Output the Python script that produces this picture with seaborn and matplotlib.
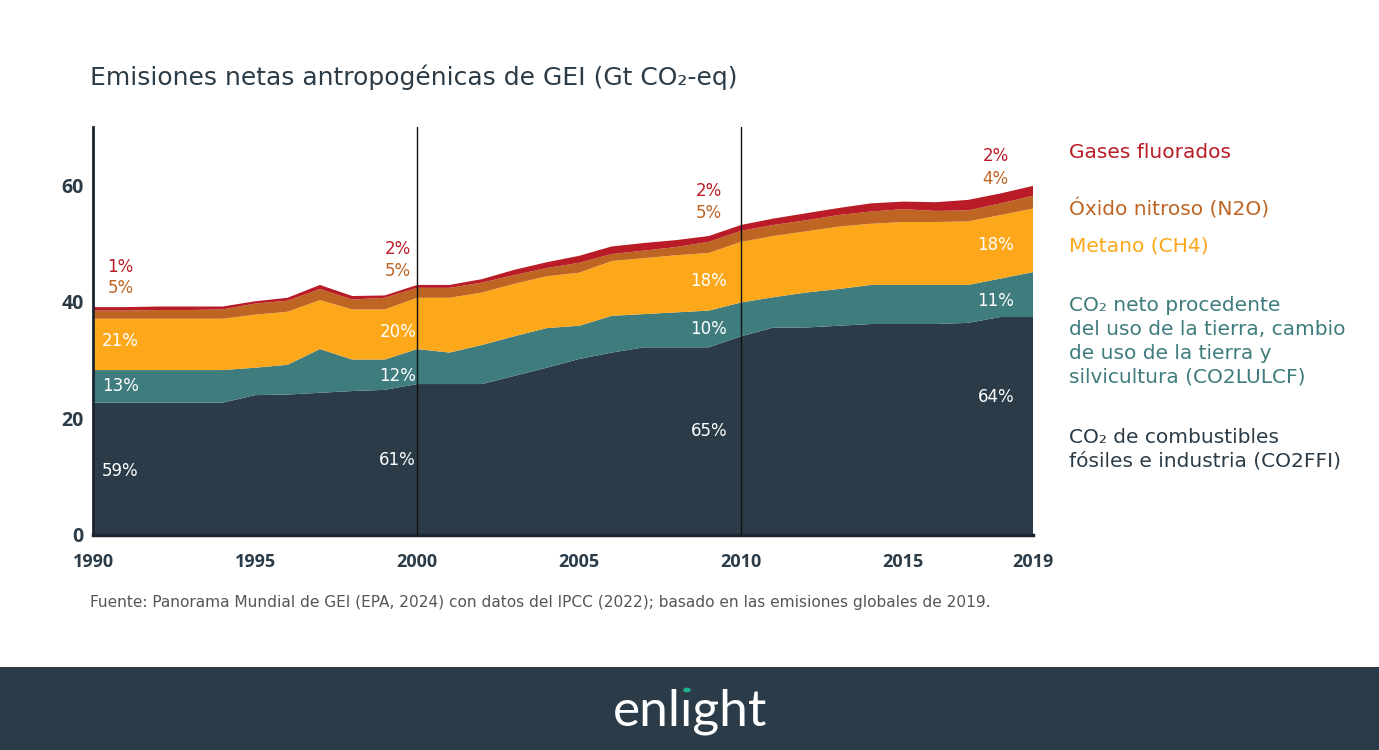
import numpy as np
import pandas as pd
import matplotlib
matplotlib.use("Agg")
import matplotlib.pyplot as plt
from matplotlib.patches import Rectangle
import seaborn as sns

# ---------------- data ----------------
years = list(range(1990, 2020))
co2ffi = [22.7, 22.7, 22.7, 22.7, 22.7, 24.0, 24.1, 24.4, 24.7, 24.9,
          25.9, 25.9, 25.9, 27.3, 28.7, 30.2, 31.3, 32.2, 32.2, 32.2,
          34.1, 35.6, 35.6, 35.9, 36.2, 36.2, 36.2, 36.4, 37.4, 37.4]
co2lulcf = [5.6, 5.6, 5.6, 5.6, 5.6, 4.7, 5.1, 7.5, 5.4, 5.2,
            6.0, 5.4, 6.7, 6.8, 6.8, 5.7, 6.3, 5.7, 6.0, 6.3,
            5.8, 5.2, 6.0, 6.3, 6.7, 6.7, 6.7, 6.5, 6.6, 7.7]
ch4 = [8.8, 8.8, 8.8, 8.8, 8.8, 9.1, 9.1, 8.4, 8.6, 8.6,
       8.8, 9.4, 9.0, 9.0, 8.9, 9.1, 9.4, 9.6, 9.8, 9.9,
       10.4, 10.5, 10.5, 10.7, 10.5, 10.8, 10.8, 10.9, 10.9, 10.9]
n2o = [1.4, 1.4, 1.5, 1.5, 1.6, 1.9, 1.9, 1.9, 1.7, 2.0,
       1.7, 1.7, 1.7, 1.5, 1.4, 1.7, 1.2, 1.3, 1.4, 1.9,
       1.9, 1.9, 1.9, 2.0, 2.1, 2.2, 1.9, 1.9, 2.0, 2.2]
fgas = [0.6, 0.6, 0.6, 0.6, 0.5, 0.4, 0.5, 0.7, 0.6, 0.4,
        0.5, 0.5, 0.6, 0.9, 1.0, 1.2, 1.3, 1.3, 1.2, 1.0,
        1.0, 1.1, 1.2, 1.2, 1.4, 1.3, 1.5, 1.8, 1.7, 1.7]

series_names = ["CO2FFI", "CO2LULCF", "CH4", "N2O", "FGAS"]
colors = ["#2B3C48", "#3E7C7D", "#FCA81A", "#BE6523", "#B91C26"]

legend_labels = [
    "Gases fluorados",
    "Óxido nitroso (N2O)",
    "Metano (CH4)",
    "CO₂ neto procedente\ndel uso de la tierra, cambio\nde uso de la tierra y\nsilvicultura (CO2LULCF)",
    "CO₂ de combustibles\nfósiles e industria (CO2FFI)",
]
legend_colors = ["#B91C26", "#BE6523", "#FCA81A", "#3E7C7D", "#2B3C48"]

# percentage annotations
pct_years = [1990.85, 1999.4, 2009.0, 2017.85]
pct_fgas = ["1%", "2%", "2%", "2%"]
pct_n2o = ["5%", "5%", "5%", "4%"]
pct_ch4 = ["21%", "20%", "18%", "18%"]
pct_lulcf = ["13%", "12%", "10%", "11%"]
pct_ffi = ["59%", "61%", "65%", "64%"]
pct_y_fgas = [46.0, 49.0, 59.0, 65.0]
pct_y_n2o = [42.4, 45.3, 55.2, 61.0]
pct_y_ch4 = [33.3, 34.8, 43.6, 49.7]
pct_y_lulcf = [25.5, 27.2, 35.3, 40.2]
pct_y_ffi = [11.0, 12.8, 17.8, 23.6]

xtick_labels = [1990, 1995, 2000, 2005, 2010, 2015, 2019]
ytick_labels = [0, 20, 40, 60]

title = "Emisiones netas antropogénicas de GEI (Gt CO₂-eq)"
source = ("Fuente: Panorama Mundial de GEI (EPA, 2024) con datos del IPCC (2022); "
          "basado en las emisiones globales de 2019.")

# ---------------- plot ----------------
sns.set_theme(style="white")
plt.rcParams["font.family"] = ["DejaVu Sans"]
TICKFONT = ["Open Sans", "DejaVu Sans"]

df = pd.DataFrame({"year": years, "CO2FFI": co2ffi, "CO2LULCF": co2lulcf,
                   "CH4": ch4, "N2O": n2o, "FGAS": fgas})

fig = plt.figure(figsize=(13.79, 7.5), dpi=100)
ax = fig.add_axes([93 / 1379, (750 - 535) / 750, (1033 - 93) / 1379, (535 - 127) / 750])

ax.stackplot(df["year"], *[df[s] for s in series_names], colors=colors,
             linewidth=0, edgecolor="none")

for yr in (2000, 2010):
    ax.axvline(yr, color="#111111", linewidth=1.0, zorder=5)

ax.set_xlim(1990, 2019)
ax.set_ylim(0, 70)
ax.set_xticks(xtick_labels)
ax.set_xticklabels([str(v) for v in xtick_labels], fontsize=13, fontweight="bold",
                   color="#2B3C48", family=TICKFONT)
ax.set_xticks(years, minor=True)
ax.set_yticks(ytick_labels)
ax.set_yticklabels([str(v) for v in ytick_labels], fontsize=14, fontweight="bold",
                   color="#2B3C48", family=TICKFONT)
ax.set_yticks([10, 30, 50, 70], minor=True)
ax.tick_params(axis="both", which="both", direction="out", length=6, width=1.3, color="#1B2530")
ax.tick_params(axis="x", which="major", pad=7)
ax.tick_params(axis="y", which="major", pad=0.5)
sns.despine(ax=ax)
ax.spines["left"].set_color("#1B2530")
ax.spines["left"].set_linewidth(2)
ax.spines["bottom"].set_color("#1B2530")
ax.spines["bottom"].set_linewidth(2.5)
ax.set_xlabel("")
ax.set_ylabel("")
ax.grid(False)

# percentage labels
for i, yr in enumerate(pct_years):
    ax.text(yr, pct_y_fgas[i], pct_fgas[i], color="#B91C26", fontsize=12, ha="center", va="center")
    ax.text(yr, pct_y_n2o[i], pct_n2o[i], color="#BE6523", fontsize=12, ha="center", va="center")
    ax.text(yr, pct_y_ch4[i], pct_ch4[i], color="white", fontsize=12, ha="center", va="center")
    ax.text(yr, pct_y_lulcf[i], pct_lulcf[i], color="white", fontsize=12, ha="center", va="center")
    ax.text(yr, pct_y_ffi[i], pct_ffi[i], color="white", fontsize=12, ha="center", va="center")

# title
fig.text(90 / 1379, 1 - 77 / 750, title, fontsize=18, color="#2B3C48", ha="left", va="center")

# legend texts
legend_y = [152, 208, 246, 305, 437]
for lab, col, yy in zip(legend_labels, legend_colors, legend_y):
    fig.text(1069 / 1379, 1 - (yy - 9) / 750, lab, fontsize=14.5, color=col,
             ha="left", va="top", linespacing=1.33)

# source
fig.text(90 / 1379, 1 - 603 / 750, source, fontsize=11.1, color="#555555", ha="left", va="center")

# footer band and logo
fig.add_artist(Rectangle((0, 0), 1, (750 - 667) / 750, transform=fig.transFigure,
                         facecolor="#2B3C48", edgecolor="none", zorder=0))
LOGOFONT = dict(fontsize=37, family=["Lato", "DejaVu Sans"], fontweight="normal")
logo_word = "enlıght"
logo = fig.text(690 / 1379, 1 - 712 / 750, logo_word, color="white",
                ha="center", va="center", **LOGOFONT)
renderer = fig.canvas.get_renderer()
full_bb = logo.get_window_extent(renderer)
tmp1 = fig.text(0, 0, logo_word[:3], **LOGOFONT)
tmp2 = fig.text(0, 0, logo_word[:4], **LOGOFONT)
w1 = tmp1.get_window_extent(renderer).width
w2 = tmp2.get_window_extent(renderer).width
tmp1.remove()
tmp2.remove()
dot_x_px = full_bb.x0 + (w1 + w2) / 2
fig.add_artist(plt.Circle((dot_x_px / fig.bbox.width, 1 - 690 / 750), 0.0022,
                          transform=fig.transFigure, color="#1DB38A", zorder=3))

fig.savefig("out.png", dpi=100, facecolor="white")
